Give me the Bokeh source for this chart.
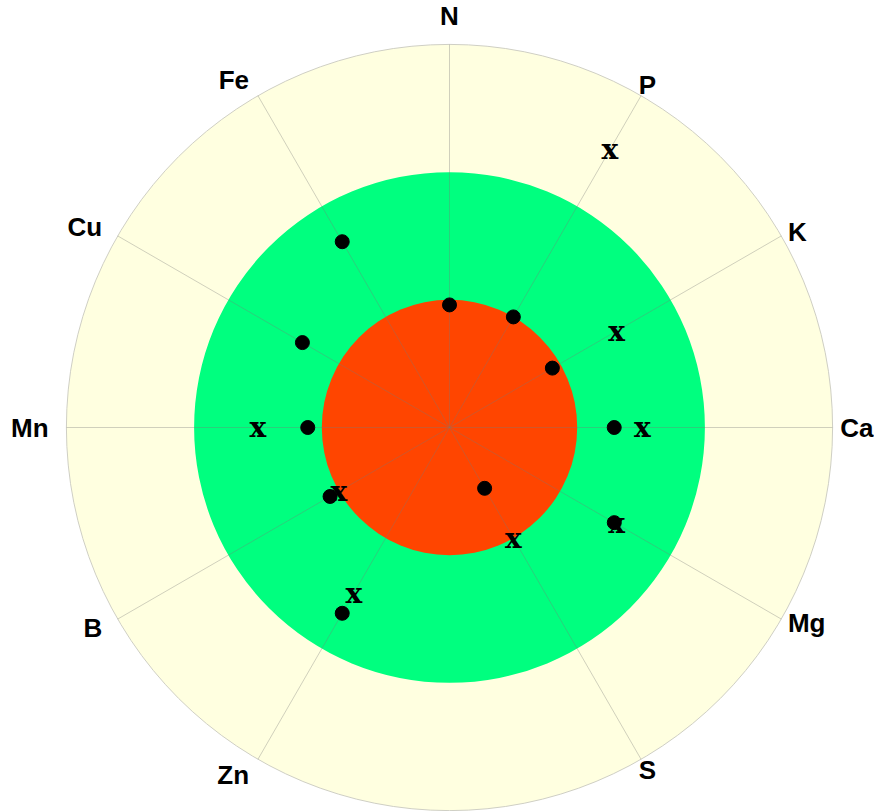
import numpy as np
from bokeh.plotting import figure
from bokeh.models import ColumnDataSource, Range1d
from bokeh.embed import file_html
from bokeh.resources import INLINE
from bokeh.core.properties import value

# ---- data ----
categories = ["N", "P", "K", "Ca", "Mg", "S", "", "Zn", "B", "Mn", "Cu", "Fe"]
dot_values = [0.96, 1.00, 0.93, 1.29, 1.49, 0.55, np.nan, 1.68, 1.08, 1.11, 1.33, 1.68]
x_values = [np.nan, 2.51, 1.51, 1.51, 1.51, 1.00, np.nan, 1.50, 1.00, 1.50, np.nan, np.nan]
band_radii = [3, 2, 1]
band_colors = ["#FFFFE0", "#00FF7F", "#FF4500"]

# ---- geometry ----
n = len(categories)
theta = np.pi / 2 - np.arange(n) * 2 * np.pi / n
cos_t, sin_t = np.cos(theta), np.sin(theta)

W, H = 874, 811
scale = 127.7
cx, cy = 449, 427
p = figure(width=W, height=H, output_backend="svg", toolbar_location=None,
           x_range=Range1d(-cx / scale, (W - cx) / scale),
           y_range=Range1d(-(H - cy) / scale, cy / scale),
           min_border=0, match_aspect=False)
p.axis.visible = False
p.grid.visible = False
p.outline_line_color = None
p.background_fill_color = "white"

# bands
for r, c in zip(band_radii, band_colors):
    p.circle(x=[0], y=[0], radius=r, fill_color=c,
             line_color="#cfcfc4" if r == band_radii[0] else None, line_width=1)

# spokes
labeled = [i for i, c in enumerate(categories) if c]
R = band_radii[0]
p.segment(x0=[0] * len(labeled), y0=[0] * len(labeled),
          x1=[R * cos_t[i] for i in labeled], y1=[R * sin_t[i] for i in labeled],
          line_color="#777777", line_alpha=0.35, line_width=1)

# dots
dv = np.array(dot_values)
m = ~np.isnan(dv)
p.scatter(x=(dv * cos_t)[m], y=(dv * sin_t)[m], size=14, marker="circle",
          fill_color="black", line_color="black")

# x markers
xv = np.array(x_values)
mx = ~np.isnan(xv)
p.text(x=(xv * cos_t)[mx], y=(xv * sin_t)[mx], text=["x"] * int(mx.sum()),
       text_font=value("DejaVu Serif"), text_font_style="bold",
       text_font_size="28px", text_align="center", text_baseline="middle",
       text_color="black")

# category labels
lx, ly, la, lb, lt = [], [], [], [], []
for i in labeled:
    c, s = cos_t[i], sin_t[i]
    if c < -0.1:
        a, rr = "right", 3.14
    elif c > 0.6:
        a, rr = "left", 3.06
    else:
        a, rr = "center", 3.1
    if s > 0.95:
        rr = 3.22
    lx.append(rr * c); ly.append(rr * s); la.append(a); lt.append(categories[i])
src = ColumnDataSource(dict(x=lx, y=ly, text=lt, align=la))
p.text(x="x", y="y", text="text", source=src, text_align="align", text_baseline="middle",
       text_font=value("Liberation Sans"), text_font_style="bold",
       text_font_size="26px", text_color="black")

open("out.html", "w").write(file_html(p, INLINE))
